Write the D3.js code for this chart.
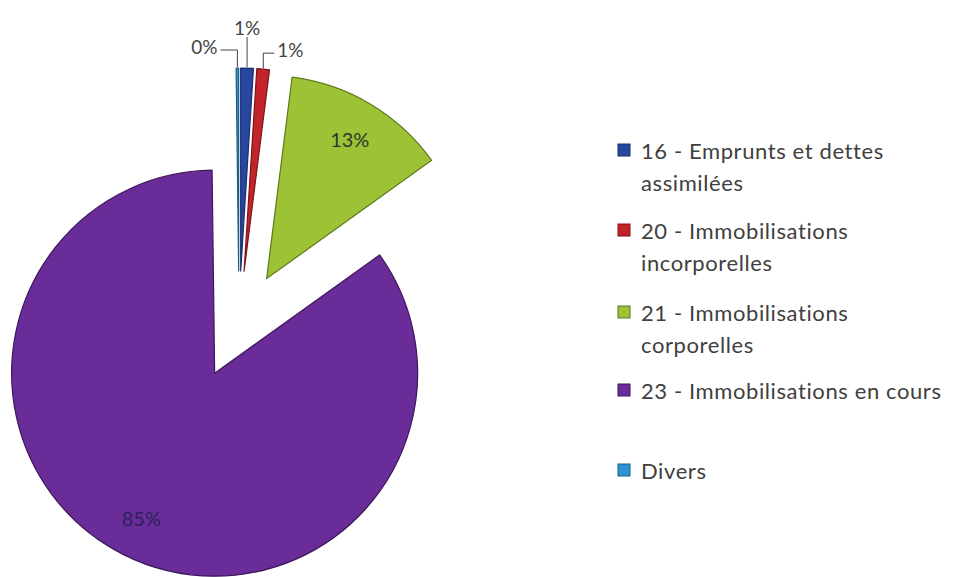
<!DOCTYPE html>
<html>
<head>
<meta charset="utf-8">
<script src="https://cdn.jsdelivr.net/npm/d3@7"></script>
<style>
  body { margin: 0; background: #fff; }
  svg { display: block; font-family: Lato, "Open Sans", sans-serif; }
</style>
</head>
<body>
<svg id="chart" width="957" height="577"></svg>
<script>
// data (shares in %)
const categories = [
  "16 - Emprunts et dettes assimilées",
  "20 - Immobilisations incorporelles",
  "21 - Immobilisations corporelles",
  "23 - Immobilisations en cours",
  "Divers"
];
const values = [1.0, 1.0, 13.1, 84.7, 0.2];
const percentLabels = ["1%", "1%", "13%", "85%", "0%"];
// legend text split into lines as in the picture
const legendLines = [
  ["16 - Emprunts et dettes", "assimilées"],
  ["20 - Immobilisations", "incorporelles"],
  ["21 - Immobilisations", "corporelles"],
  ["23 - Immobilisations en cours"],
  ["Divers"]
];

const colors = ["#2747a0", "#c3242c", "#9dc236", "#6a2c98", "#2f93cf"];
const strokes = ["#1a2f6e", "#7e1418", "#5c7a1a", "#3d175c", "#1d5e87"];

const svg = d3.select("#chart");
const cx = 239, cy = 325, radius = 203, explode = 54;

const pie = d3.pie().sort(null).value(d => d)(values);
const arc = d3.arc().innerRadius(0).outerRadius(radius);

// shift each slice out along its mid angle
const shift = function(d) {
  const a = (d.startAngle + d.endAngle) / 2;
  return [Math.sin(a) * explode, -Math.cos(a) * explode];
};

const g = svg.append("g").attr("transform", `translate(${cx},${cy})`);

const slices = g.selectAll("g.slice")
  .data(pie)
  .enter()
  .append("g")
  .attr("class", "slice")
  .attr("transform", d => `translate(${shift(d)})`);

slices.append("path")
  .attr("d", arc)
  .attr("fill", (d, i) => colors[i])
  .attr("stroke", (d, i) => strokes[i])
  .attr("stroke-width", 1.2)
  .attr("stroke-linejoin", "round");

// inside labels for the big slices
slices.filter(d => d.value > 5)
  .append("text")
  .attr("transform", d => {
    const a = (d.startAngle + d.endAngle) / 2;
    const rr = radius * 0.8;
    return `translate(${Math.sin(a) * rr},${-Math.cos(a) * rr})`;
  })
  .attr("text-anchor", "middle")
  .attr("dominant-baseline", "central")
  .attr("font-size", 20)
  .attr("fill", d => d.index === 3 ? "#2a2358" : "#2c3a28")
  .text(d => percentLabels[d.index]);

// outside labels with leader lines for the thin slivers
// offsets of the label from the sliver tip
const outside = {
  4: { dx: -20, dy: -21, anchor: "end" },
  0: { dx: 0, dy: -40, anchor: "middle" },
  1: { dx: 14, dy: -19, anchor: "start" }
};

pie.forEach(d => {
  const o = outside[d.index];
  if (!o) return;
  const a = (d.startAngle + d.endAngle) / 2;
  const s = shift(d);
  const tx = s[0] + Math.sin(a) * (radius + 1);
  const ty = s[1] - Math.cos(a) * (radius + 1);
  const lx = tx + o.dx, ly = ty + o.dy;
  let pts;
  if (o.anchor === "middle") {
    pts = [[tx, ty], [tx, ly + 10]];
  } else {
    const ex = o.anchor === "end" ? lx + 3 : lx - 3;
    pts = [[tx, ty], [tx, ly + 4], [ex, ly + 4]];
  }
  g.append("path")
    .attr("d", d3.line()(pts))
    .attr("fill", "none")
    .attr("stroke", "#444")
    .attr("stroke-width", 1);
  g.append("text")
    .attr("x", lx)
    .attr("y", ly)
    .attr("text-anchor", o.anchor)
    .attr("dominant-baseline", "central")
    .attr("font-size", 19)
    .attr("fill", "#444")
    .text(percentLabels[d.index]);
});

// legend
const legendX = 618, lineH = 32;
const legendTop = [150, 230, 312, 390, 470];

const legend = svg.append("g");
legendLines.forEach((lines, i) => {
  const y0 = legendTop[i];
  legend.append("rect")
    .attr("x", legendX)
    .attr("y", y0 - 6)
    .attr("width", 12)
    .attr("height", 12)
    .attr("fill", colors[i])
    .attr("stroke", strokes[i])
    .attr("stroke-width", 1);
  lines.forEach((t, j) => {
    legend.append("text")
      .attr("x", legendX + 23)
      .attr("y", y0 + j * lineH)
      .attr("dominant-baseline", "central")
      .attr("font-size", 22)
      .attr("letter-spacing", 0.6)
      .attr("fill", "#404040")
      .text(t);
  });
});
</script>
</body>
</html>
